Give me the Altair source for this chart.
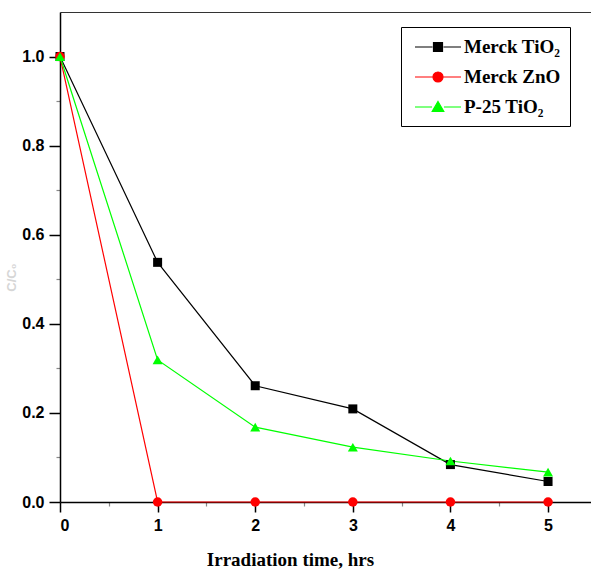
import altair as alt
import pandas as pd

# data
time_hrs = [0, 1, 2, 3, 4, 5]
series_names = ["Merck TiO₂", "Merck ZnO", "P-25 TiO₂"]
merck_tio2 = [1.0, 0.538, 0.261, 0.209, 0.084, 0.046]
merck_zno = [1.0, 0.0, 0.0, 0.0, 0.0, 0.0]
p25_tio2 = [1.0, 0.319, 0.168, 0.123, 0.092, 0.067]
colors = ["#000000", "#ff0000", "#00ff00"]
shapes = ["square", "circle", "triangle-up"]
legend_paths = [
    "M-2.3,0L-0.55,0M0.55,0L2.3,0M-0.45,-0.45L0.45,-0.45L0.45,0.45L-0.45,0.45Z",
    "M-2.3,0L-0.55,0M0.55,0L2.3,0M0.5,0A0.5,0.5,0,1,1,-0.5,0A0.5,0.5,0,1,1,0.5,0Z",
    "M-2.3,0L-0.6,0M0.6,0L2.3,0M0,-0.55L0.58,0.45L-0.58,0.45Z",
]
y_major = [0.0, 0.2, 0.4, 0.6, 0.8, 1.0]
y_minor = [0.1, 0.3, 0.5, 0.7, 0.9]
x_major = [0, 1, 2, 3, 4, 5]
x_minor = [0.5, 1.5, 2.5, 3.5, 4.5]

rows = []
for name, vals in zip(series_names, [merck_tio2, merck_zno, p25_tio2]):
    for t, v in zip(time_hrs, vals):
        rows.append({"t": t, "v": v, "series": name})
df = pd.DataFrame(rows)

xs = alt.Scale(domain=[0, 5.44], nice=False, zero=False)
ys = alt.Scale(domain=[0, 1.1], nice=False, zero=False)
cs = alt.Scale(domain=series_names, range=colors)

TICKFONT = "Liberation Sans"

lines = alt.Chart(df).mark_line(strokeWidth=1.2, clip=False).encode(
    x=alt.X("t:Q", scale=xs, axis=alt.Axis(values=x_minor, tickSize=4, tickWidth=1.2,
                                             labels=False, domain=False, title=None, orient="bottom")),
    y=alt.Y("v:Q", scale=ys, axis=alt.Axis(values=y_minor, tickSize=4, tickWidth=1.2,
                                             labels=False, domain=False, title=None, orient="left")),
    color=alt.Color("series:N", scale=cs, legend=None),
    detail="series:N",
)

points = alt.Chart(df).mark_point(filled=True, opacity=1, clip=False).encode(
    x=alt.X("t:Q", scale=xs, axis=alt.Axis(
        values=x_major, tickSize=10, tickWidth=1.5, domainWidth=1.5, domainColor="black",
        tickColor="black", labelFont=TICKFONT, labelFontWeight="bold", labelFontSize=16,
        labelColor="black", labelPadding=5, orient="bottom",
        title="Irradiation time, hrs", titleFont="Liberation Serif", titleFontWeight="bold",
        titleFontSize=19, titleColor="black", titleX=230, titleY=63, titleAlign="center",
        titleBaseline="alphabetic")),
    y=alt.Y("v:Q", scale=ys, axis=alt.Axis(
        values=y_major, format=".1f", tickSize=11, tickWidth=1.5, domainWidth=1.5,
        domainColor="black", tickColor="black", labelFont=TICKFONT, labelFontWeight="bold",
        labelFontSize=16, labelColor="black", labelPadding=5, orient="left",
        title="C/C₀", titleColor="#d6d6d6", titleFont="Liberation Sans", titleFontSize=13,
        titleX=-42, titleY=265, titleAngle=-90, titleAlign="center")),
    color=alt.Color("series:N", scale=cs, legend=None),
    shape=alt.Shape("series:N", scale=alt.Scale(domain=series_names, range=shapes), legend=None),
    size=alt.Size("series:N", scale=alt.Scale(domain=series_names, range=[81, 100, 140]), legend=None),
)

leg = dict(title=None, orient="none", legendX=341, legendY=15, strokeColor="black",
           fillColor="white", padding=9, symbolSize=400, symbolOpacity=1,
           symbolStrokeWidth=1.2, symbolOffset=17, labelFont="Liberation Serif",
           labelFontWeight="bold", labelFontSize=19, labelColor="black", labelOffset=15,
           rowPadding=9, labelLimit=300)

legend_layer = alt.Chart(df).mark_point(filled=True, opacity=0, strokeWidth=1.2).encode(
    x=alt.X("t:Q", scale=xs, axis=alt.Axis(orient="top", ticks=False, labels=False, title=None,
                                             domainColor="#333333", domainWidth=1)),
    y=alt.Y("v:Q", scale=ys, axis=None),
    color=alt.Color("series:N", scale=cs, legend=alt.Legend(**leg)),
    stroke=alt.Stroke("series:N", scale=cs, legend=alt.Legend(**leg)),
    shape=alt.Shape("series:N", scale=alt.Scale(domain=series_names, range=legend_paths),
                    legend=alt.Legend(**leg)),
)

chart = alt.layer(lines, points, legend_layer).resolve_scale(
    x="independent", y="independent", color="independent", shape="independent",
    stroke="independent"
).properties(
    width=531, height=490,
    padding={"left": 60, "top": 12, "right": 0, "bottom": 69},
    autosize=alt.AutoSizeParams(type="none"),
).configure_view(stroke=None).configure_axis(grid=False)

chart.save("out.html", embed_options={"renderer": "svg", "actions": False})
